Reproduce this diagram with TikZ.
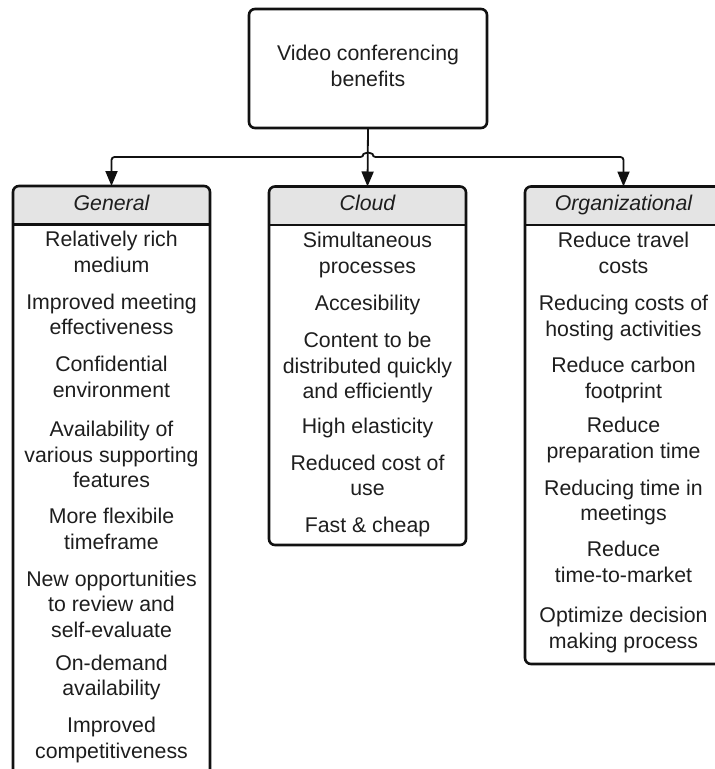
\documentclass[tikz,border=0pt]{standalone}
\usepackage{fontspec}
\setmainfont{Liberation Sans}
\usetikzlibrary{arrows.meta,calc}
\definecolor{txt}{HTML}{1E1E1E}
\definecolor{hdr}{HTML}{E4E4E4}
\definecolor{ln}{HTML}{111111}
\tikzset{
  boxline/.style={draw=ln, line width=2.6pt},
  conn/.style={draw=ln, line width=1.8pt},
  tip/.tip={Triangle[width=12pt,length=15pt]},
  colbox/.style={minimum width=197pt, inner sep=0pt, outer sep=0pt},
  item/.style={anchor=north, yshift=17.85pt, inner sep=0pt, align=center, text=txt,
    font=\fontsize{21.3}{25.5}\selectfont},
  head/.style={anchor=base, inner sep=0pt, text=txt,
    font=\fontsize{21.3}{25.5}\selectfont\itshape},
}
\begin{document}
\begin{tikzpicture}[x=1pt,y=-1pt]
\useasboundingbox (0,0) rectangle (715,769);
\clip (0,0) rectangle (715,769);
\fill[white] (0,0) rectangle (715,769);
% root
\node[boxline, rounded corners=6pt, minimum width=238pt, minimum height=119pt,
  inner sep=0pt, outer sep=0pt, align=center, text=txt,
  font=\fontsize{21.3}{25.5}\selectfont] (root) at (368,68.5)
  {\strut Video conferencing\\\strut benefits};
% column boxes (invisible anchors)
\node[colbox, minimum height=614pt] (gen) at (111.5,493) {};
\node[colbox, minimum height=358.5pt] (cloud) at (367.5,365.75) {};
\node[colbox, minimum height=477.5pt] (org) at (623.5,425.25) {};
\foreach \b in {gen,cloud,org}{
  \begin{scope}
    \clip[rounded corners=6pt] (\b.north west) rectangle (\b.south east);
    \fill[hdr] (\b.north west) rectangle ([yshift=-38.5pt]\b.north east);
  \end{scope}
  \draw[boxline] ([yshift=-38.5pt]\b.north west) -- ([yshift=-38.5pt]\b.north east);
  \draw[boxline, rounded corners=6pt] (\b.north west) rectangle (\b.south east);
}
% headers
\node[head] (hgen) at (111.5,210) {General};
\node[head] (hcloud) at (367.5,210) {Cloud};
\node[head] (horg) at (623.5,210) {Organizational};
% connectors
\coordinate (hbar) at (0,157);
\draw[conn, -{tip}] (root.south) -- (cloud.north);
\draw[conn, {tip}-{tip}, rounded corners=3pt] (gen.north) -- (gen.north |- hbar)
  -- ([xshift=-4.5pt]root.south |- hbar) arc[start angle=180, end angle=0, radius=4.5pt]
  -- (org.north |- hbar) -- (org.north);
% General items
\node[item] (g1) at (111.5,246.7) {\strut Relatively rich\\\strut medium};
\node[item] (g2) at (111.5,309) {\strut Improved meeting\\\strut effectiveness};
\node[item] (g3) at (111.5,371.7) {\strut Confidential\\\strut environment};
\node[item] (g4) at (111.5,436.7) {\strut Availability of\\\strut various supporting\\\strut features};
\node[item] (g5) at (111.5,523.3) {\strut More flexibile\\\strut timeframe};
\node[item] (g6) at (111.5,586) {\strut New opportunities\\\strut to review and\\\strut self-evaluate};
\node[item] (g7) at (111.5,670) {\strut On-demand\\\strut availability};
\node[item] (g8) at (111.5,732.7) {\strut Improved\\\strut competitiveness};
% Cloud items
\node[item] (c1) at (367.5,247.3) {\strut Simultaneous\\\strut processes};
\node[item] (c2) at (367.5,310.7) {\strut Accesibility};
\node[item] (c3) at (367.5,347.7) {\strut Content to be\\\strut distributed quickly\\\strut and efficiently};
\node[item] (c4) at (367.5,433.3) {\strut High elasticity};
\node[item] (c5) at (367.5,470) {\strut Reduced cost of\\\strut use};
\node[item] (c6) at (367.5,532) {\strut Fast \& cheap};
% Organizational items
\node[item] (o1) at (623.5,247.3) {\strut Reduce travel\\\strut costs};
\node[item] (o2) at (623.5,310.7) {\strut Reducing costs of\\\strut hosting activities};
\node[item] (o3) at (623.5,372.7) {\strut Reduce carbon\\\strut footprint};
\node[item] (o4) at (623.5,432.7) {\strut Reduce\\\strut preparation time};
\node[item] (o5) at (623.5,495) {\strut Reducing time in\\\strut meetings};
\node[item] (o6) at (623.5,556.7) {\strut Reduce\\\strut time-to-market};
\node[item] (o7) at (623.5,622.5) {\strut Optimize decision\\\strut making process};
\end{tikzpicture}
\end{document}
